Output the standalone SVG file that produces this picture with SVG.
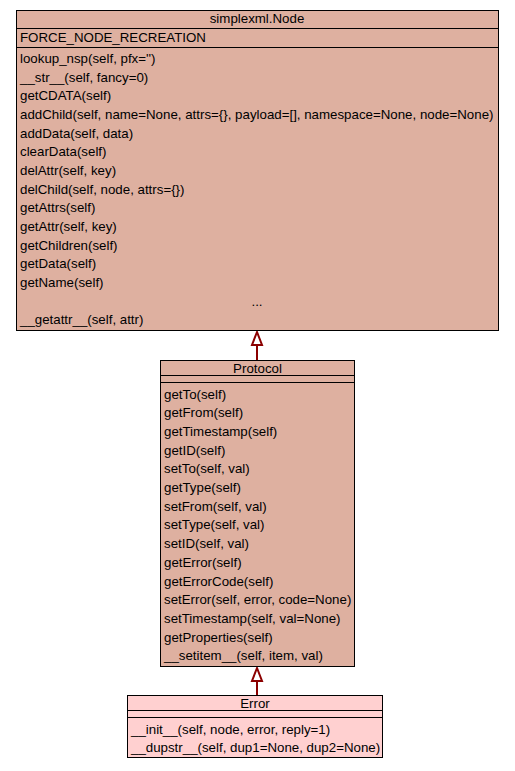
<svg xmlns="http://www.w3.org/2000/svg" width="515" height="771" viewBox="0 0 515 771">
<defs>
<style>
.box{stroke:#000;stroke-width:1}
.n{fill:#DEB0A0}
.e{fill:#FFD0D0}
.sep{stroke:#000;stroke-width:1}
text{font-family:"Liberation Sans",Arial,sans-serif;font-size:13.3px;fill:#000}
.c{text-anchor:middle}
.edge{stroke:#8B0000;stroke-width:2;fill:none}
.head{stroke:#8B0000;stroke-width:2;fill:#fff}
</style>
</defs>
<rect width="515" height="771" fill="#fff"/>
<g id="connectors">
<line class="edge" x1="257" y1="345" x2="257" y2="360"/>
<polygon class="head" points="257,332 252,345 262,345"/>
<line class="edge" x1="257" y1="681" x2="257" y2="695"/>
<polygon class="head" points="257,668 252,681 262,681"/>
</g>
<g id="node-simplexml-Node">
<rect class="box n" x="16.5" y="10.5" width="482" height="320"/>
<line class="sep" x1="16.5" y1="28.5" x2="498.5" y2="28.5"/>
<line class="sep" x1="16.5" y1="47.5" x2="498.5" y2="47.5"/>
<text class="c" x="257" y="23">simplexml.Node</text>
<text x="20" y="42">FORCE_NODE_RECREATION</text>
<text x="20" y="63">lookup_nsp(self, pfx='')</text>
<text x="20" y="81.7">__str__(self, fancy=0)</text>
<text x="20" y="100.3">getCDATA(self)</text>
<text x="20" y="119">addChild(self, name=None, attrs={}, payload=[], namespace=None, node=None)</text>
<text x="20" y="137.6">addData(self, data)</text>
<text x="20" y="156.3">clearData(self)</text>
<text x="20" y="174.9">delAttr(self, key)</text>
<text x="20" y="193.6">delChild(self, node, attrs={})</text>
<text x="20" y="212.2">getAttrs(self)</text>
<text x="20" y="230.9">getAttr(self, key)</text>
<text x="20" y="249.5">getChildren(self)</text>
<text x="20" y="268.2">getData(self)</text>
<text x="20" y="286.8">getName(self)</text>
<text class="c" x="257" y="305.5">...</text>
<text x="20" y="324.1">__getattr__(self, attr)</text>
</g>
<g id="node-Protocol">
<rect class="box n" x="160.5" y="360.5" width="194" height="306"/>
<line class="sep" x1="160.5" y1="375.5" x2="354.5" y2="375.5"/>
<line class="sep" x1="160.5" y1="382.5" x2="354.5" y2="382.5"/>
<text class="c" x="257.5" y="373">Protocol</text>
<text x="164" y="398.5">getTo(self)</text>
<text x="164" y="417.2">getFrom(self)</text>
<text x="164" y="435.9">getTimestamp(self)</text>
<text x="164" y="454.6">getID(self)</text>
<text x="164" y="473.3">setTo(self, val)</text>
<text x="164" y="492">getType(self)</text>
<text x="164" y="510.7">setFrom(self, val)</text>
<text x="164" y="529.4">setType(self, val)</text>
<text x="164" y="548.1">setID(self, val)</text>
<text x="164" y="566.8">getError(self)</text>
<text x="164" y="585.5">getErrorCode(self)</text>
<text x="164" y="604.2">setError(self, error, code=None)</text>
<text x="164" y="622.9">setTimestamp(self, val=None)</text>
<text x="164" y="641.6">getProperties(self)</text>
<text x="164" y="660.3">__setitem__(self, item, val)</text>
</g>
<g id="node-Error">
<rect class="box e" x="127.5" y="695.5" width="255" height="62"/>
<line class="sep" x1="127.5" y1="710.5" x2="382.5" y2="710.5"/>
<line class="sep" x1="127.5" y1="717.5" x2="382.5" y2="717.5"/>
<text class="c" x="255" y="708">Error</text>
<text x="131" y="733.5">__init__(self, node, error, reply=1)</text>
<text x="131" y="752.2">__dupstr__(self, dup1=None, dup2=None)</text>
</g>
</svg>
